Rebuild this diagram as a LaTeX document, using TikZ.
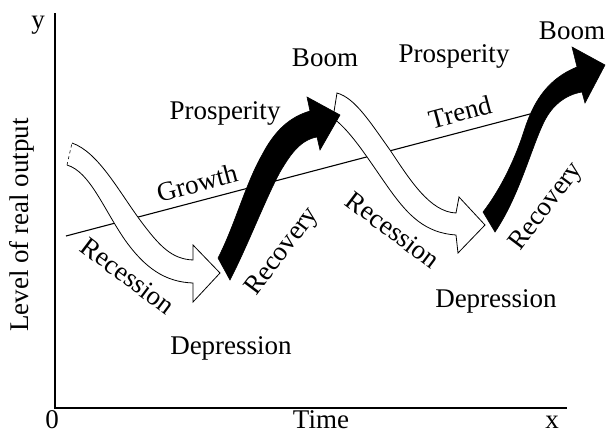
\documentclass[tikz,border=0pt]{standalone}
\usepackage{fontspec}
\setmainfont{Liberation Serif}
\begin{document}
\begin{tikzpicture}[x=1pt,y=-1pt,
  lbl/.style={inner sep=0pt,font=\fontsize{27}{32}\selectfont},
  axisline/.style={line width=1.2pt},
  trendline/.style={line width=1.1pt},
  hollowarrow/.style={fill=white,draw=black,line width=0.8pt,line join=miter},
  solidarrow/.style={fill=black,draw=black,line width=0.6pt,line join=miter}]
\useasboundingbox (0,0) rectangle (606,434);

% axes
\coordinate (O) at (55,408);
\coordinate (ytop) at (55,13);
\coordinate (xend) at (567,408);
\draw[axisline] (ytop) -- (O) -- (xend);
\draw[line width=1.8pt] (O) -- ++(33,0);

\node[lbl,anchor=base] (ylab) at (38,28) {y};
\node[lbl,anchor=base] (xlab) at (552,428) {x};
\node[lbl,anchor=base] (zero) at (52,428) {0};
\node[lbl,anchor=base] (time) at (321,428) {Time};
\node[lbl,rotate=90] (yaxis) at (22,225) {Level of real output};

% long-run trend
\coordinate (tA) at (66,236);
\coordinate (tB) at (530,114);
\draw[trendline] (tA) -- (tB);

% first downswing (hollow arrow)
\filldraw[hollowarrow]
  (72,143) .. controls (98,152) and (118,190) .. (140,220)
  .. controls (160,247) and (172,259) .. (193,260)
  -- (193,245) -- (220,273) -- (193,302) -- (193,283)
  .. controls (165,282) and (145,268) .. (125,240)
  .. controls (103,208) and (90,172) .. (67,165);
\draw[dashed,line width=0.6pt] (67,165) -- (72,143);

% second downswing (hollow arrow)
\filldraw[hollowarrow]
  (337,93) .. controls (355,98) and (370,122) .. (390,150)
  .. controls (410,180) and (430,212) .. (456,213)
  -- (459,197) -- (485,225) -- (458,253) -- (456,235)
  .. controls (425,233) and (408,215) .. (390,190)
  .. controls (370,162) and (352,132) .. (333,118) -- cycle;

% first upswing (solid arrow)
\filldraw[solidarrow]
  (218,258) .. controls (235,225) and (245,185) .. (262,155)
  .. controls (275,130) and (290,117) .. (310,111)
  -- (307,97) -- (340,115) -- (320,150) -- (317,137)
  .. controls (300,140) and (290,155) .. (280,172)
  .. controls (265,200) and (248,245) .. (230,280) -- cycle;

% second upswing (solid arrow)
\filldraw[solidarrow]
  (483,212) .. controls (500,190) and (515,160) .. (525,128)
  .. controls (535,98) and (550,78) .. (577,67)
  -- (572,47) -- (605,65) -- (585,103) -- (582,92)
  .. controls (565,95) and (553,105) .. (545,120)
  .. controls (532,145) and (520,195) .. (495,232) -- cycle;

% phase labels
\node[lbl] (pros1) at (225,113) {Prosperity};
\node[lbl] (boom1) at (325,58) {Boom};
\node[lbl] (pros2) at (454,56) {Prosperity};
\node[lbl] (boom2) at (572,31) {Boom};
\node[lbl,rotate=15] (growth) at (197,183) {Growth};
\node[lbl,rotate=15] (trend) at (460,112) {Trend};
\node[lbl,rotate=-37] (rec1) at (128,276) {Recession};
\node[lbl,rotate=-37] (rec2) at (393,230) {Recession};
\node[lbl,rotate=53] (recov1) at (283,252) {Recovery};
\node[lbl,rotate=53] (recov2) at (547,207) {Recovery};
\node[lbl] (dep1) at (231,348) {Depression};
\node[lbl] (dep2) at (496,301) {Depression};
\end{tikzpicture}
\end{document}
